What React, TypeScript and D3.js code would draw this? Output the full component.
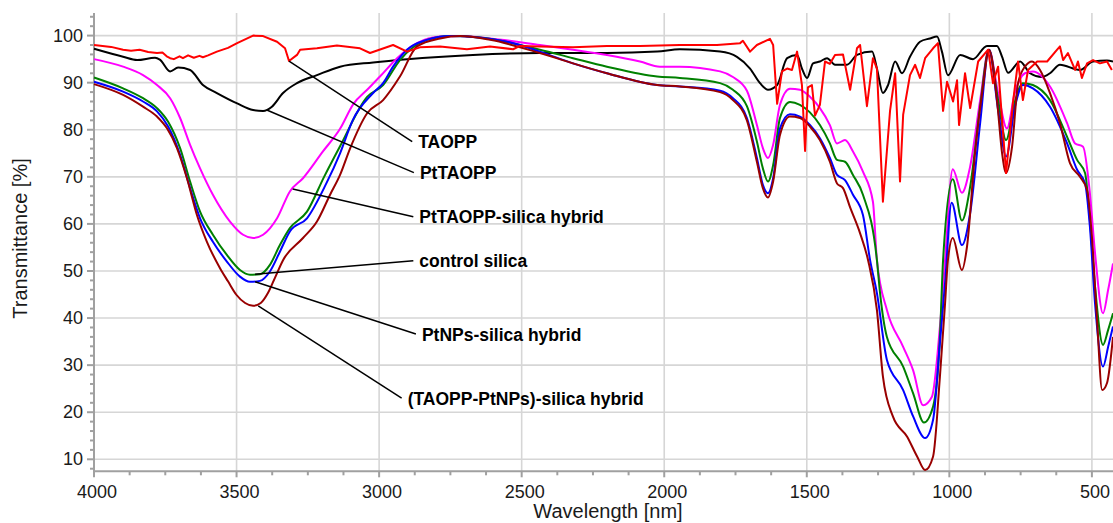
import React from 'react';
import * as d3 from 'd3';

// ---------- data (wavelength axis as labelled, transmittance in %) ----------
const taoppWl = [4000,3940,3898,3870,3840,3810,3779,3760,3745,3733,3720,3700,3688,3670,3650,3630,3618,3600,3569,3530,3498,3442,3407,3358,3330,3316,3288,3277,3218,3148,3067,3032,2951,2902,2857,2786,2692,2611,2530,2506,2436,2320,2201,2085,1945,1815,1734,1724,1699,1675,1629,1618,1604,1587,1569,1552,1534,1517,1506,1496,1482,1471,1454,1436,1419,1401,1373,1348,1324,1313,1289,1268,1254,1233,1208,1190,1173,1162,1138,1120,1103,1085,1057,1040,1022,1008,987,973,966,945,927,899,864,847,829,801,777,759,742,724,692,657,622,612,601,584,559,549,535,517,496,472,447,430];
const taoppT = [98.0,97.6,97.0,96.8,97.0,96.5,96.3,96.4,95.6,95.2,95.0,95.6,95.2,95.8,95.3,95.7,95.4,95.8,96.6,97.4,98.4,100,99.9,98.7,97.3,94.6,95.9,97.0,97.3,97.9,97.3,96.3,98.0,96.6,97.5,97.7,97.1,97.7,97.1,97.8,97.7,97.5,97.8,97.8,98.0,98.0,98.4,98.9,96.6,98.0,99.3,98.0,85.5,92.4,93.0,92.7,96.6,89.5,75.5,89.0,89.5,83.0,85.3,94.5,94.0,95.9,96.0,88.5,97.3,98.0,85.0,95.2,93.0,64.7,84.0,92.0,69.0,83.2,91.6,93.8,91.0,95.2,97.3,98.4,84.0,90.2,86.0,90.5,81.0,92.0,84.6,94.5,97.0,89.9,93.4,70.8,85.7,94.5,86.3,92.7,94.5,94.5,97.0,97.7,94.8,96.3,92.7,94.5,91.0,94.1,94.8,94.1,94.5,92.7];

const pttaoppWl = [4000,3898,3849,3786,3769,3733,3705,3663,3618,3569,3498,3442,3407,3376,3337,3288,3218,3137,3021,2902,2671,2436,2201,2025,1945,1804,1745,1699,1664,1636,1604,1569,1534,1517,1499,1478,1454,1429,1401,1359,1324,1271,1254,1233,1215,1190,1166,1138,1103,1068,1043,1026,1005,962,917,868,833,815,794,752,717,675,647,612,542,496,447,426];
const pttaoppT = [97.2,95.5,94.8,95.3,94.9,92.4,93.2,92.7,89.5,87.8,85.6,84.2,84.0,84.9,87.8,89.9,91.6,93.4,94.3,95.0,95.9,96.3,96.3,96.6,97.1,96.6,95.5,93.0,89.9,88.5,89.5,95.2,95.9,93.0,91.0,94.1,94.5,95.2,93.8,93.8,95.9,96.6,93.0,87.8,89.5,94.5,92.0,95.5,98.7,99.4,99.8,96.6,91.6,95.9,95.0,97.8,97.8,95.5,92.1,94.5,92.0,91.2,92.0,93.8,92.7,94.5,94.7,94.5];

const ptHybridWl = [4000,3898,3828,3779,3733,3698,3663,3628,3583,3523,3477,3442,3407,3358,3313,3267,3197,3137,3090,3042,2997,2937,2867,2786,2716,2611,2436,2320,2201,2085,2015,1945,1804,1759,1710,1675,1654,1636,1618,1594,1559,1524,1489,1454,1419,1394,1366,1338,1303,1268,1254,1219,1162,1127,1092,1061,1033,1015,988,956,927,892,861,829,798,770,735,707,647,587,559,531,507,489,461,443,426];
const ptHybridT = [95,93.4,91.6,89.5,86.7,82.5,76.8,71.8,66.2,60.5,57.7,57,57.7,61.2,66.9,69.7,75.4,80.2,85.5,88.5,91.3,95.2,98.4,99.8,99.9,99.4,98,97,95.9,94.5,93.4,93.4,92.4,91.2,88.3,81,76.1,74,76.8,85.3,88.7,88.5,87,84.6,81,77.1,77.8,75.4,71.1,64.7,52.3,41.7,33.9,28.9,21.5,23.3,38.2,52.3,71.6,66.6,72.2,86.3,97,87.8,80.3,88,92,92.4,89.2,81.4,77.1,76.4,66.5,53.8,41,46,51.6];

const controlWl = [4000,3898,3828,3779,3740,3698,3663,3628,3583,3534,3488,3453,3418,3383,3348,3313,3253,3193,3137,3042,2986,2927,2832,2751,2646,2436,2320,2201,2025,1945,1804,1759,1710,1675,1654,1636,1618,1594,1559,1524,1489,1454,1419,1394,1366,1338,1303,1254,1243,1219,1162,1127,1089,1057,1033,1022,988,956,927,892,861,829,801,770,742,707,647,587,552,524,507,489,461,443,426];
const controlT = [91.1,88.8,86.7,84.6,81.7,76.1,69,62.6,57.7,53.4,50.2,49.2,49.3,51.3,55.5,59.1,62.6,70,76.5,87,89.5,94.8,99.1,99.9,99.6,97,95.2,93.4,91.3,91,89.9,88.5,85,77.5,71.8,69,72.5,82.5,85.9,85.3,83.7,81,77.1,73.6,73.2,70.4,66.2,52.3,45.3,36,29.7,24,17.8,21.2,36,52.3,69.5,60.7,67.9,84.9,97,86.3,77.8,86,89.9,89.5,86.3,78.5,73.6,70.8,60.8,46.7,34.3,37.5,41];

const ptnpsWl = [4000,3898,3828,3779,3740,3698,3663,3628,3583,3534,3488,3453,3418,3383,3348,3313,3253,3186,3137,3092,3021,2986,2951,2902,2832,2751,2551,2436,2320,2201,2025,1945,1804,1759,1710,1675,1654,1636,1618,1594,1559,1524,1489,1454,1419,1394,1366,1338,1303,1278,1254,1219,1162,1127,1085,1057,1033,1015,992,956,927,892,861,829,801,770,742,707,647,587,552,524,507,489,461,443,426];
const ptnpsT = [90.2,88.1,86,83.9,80.7,74.7,67.6,61.2,56.2,52,48.8,47.7,47.9,49.9,54.1,58.4,61.2,68.5,75,82.1,87.8,89.9,93.4,97,99.1,99.9,98.7,96.6,94.1,92,89.5,89.2,88.3,86.7,82.5,74,68.3,66.5,69.7,80.3,83.3,82.8,81,78.2,74,70.4,69.3,66.2,61.9,52.3,45.3,31.1,24.7,19.1,14.5,18.4,34.7,47.5,64.5,55.5,62.3,81.4,97,84.2,74.3,84.9,89.5,88.8,84.9,77.1,71.5,68.6,59.4,43.1,29.7,33.9,38.2];

const taoppPtWl = [4000,3898,3828,3779,3744,3709,3674,3639,3604,3558,3530,3500,3470,3442,3415,3390,3365,3337,3267,3218,3172,3137,3102,3042,2986,2927,2867,2786,2716,2611,2436,2320,2201,2025,1945,1804,1759,1710,1675,1654,1636,1618,1594,1559,1524,1489,1454,1419,1394,1373,1348,1313,1285,1254,1233,1198,1148,1113,1085,1057,1033,1015,1005,988,956,938,910,882,861,833,815,801,780,759,735,710,682,647,612,577,542,517,500,482,464,447,426];
const taoppPtT = [89.7,87.4,84.9,82.8,80.3,76.1,69.7,61.9,56.2,50.6,47.8,44.9,43.2,42.6,43.2,45.3,48.6,52.3,57,60.5,66.2,70.4,76,83.5,86.3,91.3,97.7,99.4,99.9,99.1,96.3,94.1,92,89.5,89.2,88,86.3,82,73.2,67.6,65.6,69,78.9,82.8,82.5,80.7,77.8,73.2,68.6,67.6,63.5,58,52.3,41.7,27.6,19.1,14.8,10.6,7.7,10.6,27.6,43.1,52.3,57,50.2,55.2,75,89.2,97,86.3,75,70.8,76.4,89.9,93.4,94.5,92.7,87.8,81.4,72.9,70,67.2,57.3,39.6,24.7,26.2,36];

const xTickValues = [4000, 3500, 3000, 2500, 2000, 1500, 1000, 500];
const yTickValues = [10, 20, 30, 40, 50, 60, 70, 80, 90, 100];

const seriesNames = ['PtTAOPP', 'PtTAOPP-silica hybrid', 'control silica', 'PtNPs-silica hybrid', '(TAOPP-PtNPs)-silica hybrid', 'TAOPP'];
const seriesColors = ['#000000', '#ff00ff', '#008000', '#0000ff', '#990000', '#ff0000'];
const seriesWl = [pttaoppWl, ptHybridWl, controlWl, ptnpsWl, taoppPtWl, taoppWl];
const seriesT = [pttaoppT, ptHybridT, controlT, ptnpsT, taoppPtT, taoppT];

// annotation: label text, point on curve (wl, T), line end near label (wl, T)
const annoText = ['TAOPP', 'PtTAOPP', 'PtTAOPP-silica hybrid', 'control silica', 'PtNPs-silica hybrid', '(TAOPP-PtNPs)-silica hybrid'];
const annoFrom = [[3316, 94.6], [3394, 84.2], [3303, 67.4], [3435, 49.3], [3435, 47.7], [3424, 42.6]];
const annoTo = [[2884, 77.5], [2878, 70.9], [2880, 61.5], [2880, 52.2], [2871, 36.6], [2921, 23.0]];

const FONT = "'Liberation Sans', Arial, Helvetica, sans-serif";

export default function App() {
  const W = 1113, H = 523;
  const x = d3.scaleLinear().domain([4000, 426]).range([94, 1113]);
  const y = d3.scaleLinear().domain([7.45, 104.8]).range([471.3, 13]);
  const [y0, y1] = y.range();
  const [x0, x1] = x.range();

  const minorX = d3.range(4000, 426, -125).filter(v => v % 500 !== 0);
  const minorY = d3.range(8, 105, 2).filter(v => v % 10 !== 0);

  const lineFor = (i: number) => {
    const pts: [number, number][] = seriesWl[i].map((w, k) => [x(w), y(seriesT[i][k])]);
    const gen = d3.line<[number, number]>()
      .x(d => d[0]).y(d => d[1])
      .curve(i === 5 ? d3.curveLinear : d3.curveMonotoneX);
    return gen(pts) || '';
  };

  return (
    <svg width={W} height={H} style={{ position: 'absolute', left: 0, top: 0, background: '#fff' }} fontFamily={FONT}>
      <rect x={0} y={0} width={W} height={H} fill="#fff" />
      {/* grid */}
      <g stroke="#d6d6d6" strokeWidth={1.6}>
        {yTickValues.map(v => (
          <line key={'gy' + v} x1={x0} x2={x1} y1={y(v)} y2={y(v)} />
        ))}
        {xTickValues.filter(v => v !== 4000).map(v => (
          <line key={'gx' + v} x1={x(v)} x2={x(v)} y1={y1} y2={y0} />
        ))}
      </g>
      {/* axes */}
      <g stroke="#a0a0a0" strokeWidth={2}>
        <line x1={x0} x2={x0} y1={y1} y2={y0 + 1} />
        <line x1={x0 - 1} x2={x1} y1={y0} y2={y0} />
        {xTickValues.map(v => <line key={'tx' + v} x1={x(v)} x2={x(v)} y1={y0} y2={y0 + 6} />)}
        {minorX.map(v => <line key={'mx' + v} x1={x(v)} x2={x(v)} y1={y0} y2={y0 + 4} />)}
        {yTickValues.map(v => <line key={'ty' + v} x1={x0 - 7} x2={x0} y1={y(v)} y2={y(v)} />)}
        {minorY.map(v => <line key={'my' + v} x1={x0 - 4} x2={x0} y1={y(v)} y2={y(v)} />)}
      </g>
      {/* tick labels */}
      <g fill="#1a1a1a" fontSize={18}>
        {xTickValues.map(v => (
          <text key={'lx' + v} x={x(v) + 3} y={498} textAnchor="middle">{v}</text>
        ))}
        {yTickValues.map(v => (
          <text key={'ly' + v} x={83} y={y(v) + 6} textAnchor="end">{v}</text>
        ))}
      </g>
      {/* axis titles */}
      <text x={0} y={0} fontSize={20} fill="#1a1a1a" textAnchor="middle"
        transform={`translate(27, 238.5) rotate(-90)`}>Transmittance [%]</text>
      <text x={608} y={518} fontSize={20} fill="#1a1a1a" textAnchor="middle">Wavelength [nm]</text>
      {/* series */}
      <g fill="none" strokeWidth={2} strokeLinejoin="round">
        {seriesNames.map((n, i) => (
          <path key={n} d={lineFor(i)} stroke={seriesColors[i]} />
        ))}
      </g>
      {/* annotations */}
      <g>
        {annoText.map((t, i) => {
          const fx = x(annoFrom[i][0]), fy = y(annoFrom[i][1]);
          const tx = x(annoTo[i][0]), ty = y(annoTo[i][1]);
          return (
            <g key={t}>
              <line x1={fx} y1={fy} x2={tx} y2={ty} stroke="#000" strokeWidth={1.5} />
              <text x={tx + 6} y={ty + 6.5} fontSize={17.5} fontWeight="bold" fill="#000">{t}</text>
            </g>
          );
        })}
      </g>
    </svg>
  );
}
